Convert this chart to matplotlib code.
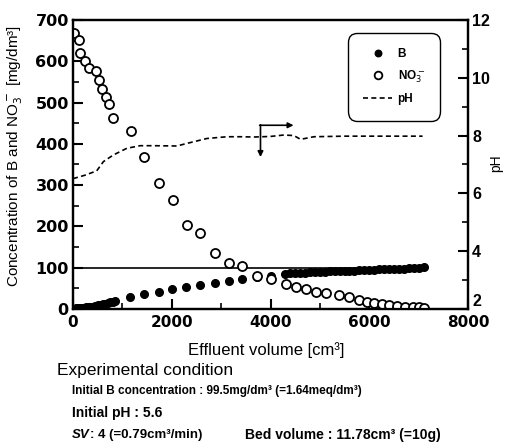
import matplotlib
matplotlib.use('Agg')
import matplotlib.pyplot as plt
from matplotlib.ticker import MultipleLocator

plt.rcParams['font.family'] = ['Liberation Sans', 'DejaVu Sans']

# NO3- concentration [mg/dm3] vs effluent volume [cm3]
no3_x = [20, 115, 142, 250, 331, 467, 528, 595, 663, 737, 818, 1172, 1442, 1740,
         2024, 2308, 2579, 2883, 3154, 3425, 3729, 4000, 4305, 4508, 4711, 4914,
         5117, 5387, 5590, 5793, 5962, 6100, 6250, 6400, 6560, 6720, 6880, 7000, 7114]
no3_y = [669, 651, 621, 600, 583, 576, 554, 532, 514, 496, 462, 432, 369, 304,
         264, 203, 183, 135, 111, 104, 80, 72, 60, 54, 48, 42,
         38, 35, 30, 22, 16, 14, 12, 10, 8, 6, 5, 4, 3]

# B concentration [mg/dm3]
b_x = [10, 40, 70, 100, 140, 180, 220, 260, 300, 350, 400, 450, 500, 550, 600,
       650, 700, 750, 800, 850, 1157, 1442, 1733, 2003, 2294, 2579, 2869, 3154,
       3425, 3729, 4000,
       4300, 4400, 4500, 4600, 4700, 4800, 4900, 5000, 5100, 5200, 5300, 5400,
       5500, 5600, 5700, 5800, 5900, 6000, 6100, 6200, 6300, 6400, 6500, 6600,
       6700, 6800, 6900, 7000, 7100]
b_y = [1, 1, 2, 2, 2, 3, 3, 4, 4, 5, 6, 7, 9, 10, 12,
       13, 15, 16, 18, 19, 30, 36, 42, 48, 54, 58, 62, 67,
       72, 77, 80,
       85, 86, 87, 87, 88, 89, 89, 90, 90, 91, 91, 92,
       92, 93, 93, 94, 94, 95, 95, 96, 96, 97, 97, 98,
       98, 99, 99, 100, 101]

# effluent pH
ph_x = [0, 244, 480, 616, 818, 1090, 1360, 1631, 2105, 2308, 2714, 3120, 3390,
        3661, 4000, 4270, 4473, 4609, 4880, 5500, 6200, 7080]
ph_y = [6.51, 6.63, 6.78, 7.10, 7.33, 7.56, 7.65, 7.65, 7.64, 7.73, 7.90, 7.96, 7.96,
        7.95, 7.97, 8.02, 8.00, 7.87, 7.96, 7.98, 7.98, 7.98]

b_initial = 99.5
v_end = 7100

fig = plt.figure(figsize=(5.05, 4.48), dpi=100)
ax = fig.add_axes([0.1446, 0.3103, 0.7821, 0.6451])
ax2 = ax.twinx()

ax.plot([0, v_end], [b_initial, b_initial], color='black', lw=1.2, zorder=1)
hb, = ax.plot(b_x, b_y, 'o', color='black', ms=5.5, label='B', zorder=2)
hn, = ax.plot(no3_x, no3_y, 'o', mfc='white', mec='black', mew=1.3, ms=6.5,
              label='NO$_3^-$', zorder=3)
hp, = ax2.plot(ph_x, ph_y, '--', color='black', lw=1.2, dashes=(3, 2), label='pH')

ax.set_xlim(0, 8000)
ax.set_ylim(0, 700)
ax2.set_ylim(2, 12)

ax.xaxis.set_major_locator(MultipleLocator(2000))
ax.xaxis.set_minor_locator(MultipleLocator(1000))
ax.yaxis.set_major_locator(MultipleLocator(100))
ax.yaxis.set_minor_locator(MultipleLocator(50))
ax2.yaxis.set_major_locator(MultipleLocator(2))
ax2.yaxis.set_minor_locator(MultipleLocator(1))

for a in (ax, ax2):
    a.tick_params(which='major', direction='in', length=7, width=1.5, pad=3)
    a.tick_params(which='minor', direction='in', length=4, width=1.2)
    for s in a.spines.values():
        s.set_linewidth(1.6)

# left / bottom tick labels are wide and heavy, right ones narrower
for lab in ax.get_yticklabels():
    lab.set_fontfamily('DejaVu Sans')
    lab.set_fontweight('bold')
    lab.set_fontsize(11.5)
for lab in ax.get_xticklabels():
    lab.set_fontfamily('DejaVu Sans')
    lab.set_fontweight('bold')
    lab.set_fontsize(11)
for lab in ax2.get_yticklabels():
    lab.set_fontweight('bold')
    lab.set_fontsize(11.5)
ax.tick_params(axis='x', pad=4)

# lift the lowest pH label a little so it clears "8000"
for t in ax2.yaxis.get_major_ticks():
    if abs(t.get_loc() - 2) < 1e-9:
        t.label2.set_va('bottom')

ax.set_xlabel('Effluent volume [cm³]', fontsize=12)
ax.xaxis.set_label_coords(0.49, -0.115)
ax.set_ylabel('Concentration of B and NO$_3^-$ [mg/dm³]', fontsize=11)
ax.yaxis.set_label_coords(-0.122, 0.53)
ax2.set_ylabel('pH', fontsize=10)
ax2.yaxis.set_label_coords(1.053, 0.505)

# arrow pointing to the pH axis
ax.annotate('', xy=(4467, 445), xytext=(3780, 445),
            arrowprops=dict(arrowstyle='-|>', color='black', lw=1.2,
                            mutation_scale=8, shrinkA=0, shrinkB=0))
ax.annotate('', xy=(3797, 368), xytext=(3797, 446),
            arrowprops=dict(arrowstyle='-|>', color='black', lw=1.2,
                            mutation_scale=8, shrinkA=0, shrinkB=0))

leg = ax2.legend(handles=[hb, hn, hp], loc='upper right',
                 bbox_to_anchor=(0.93, 0.955), borderaxespad=0,
                 prop={'size': 8.5, 'weight': 'bold'}, labelspacing=0.7,
                 borderpad=1.3, handlelength=2.4, handletextpad=0.5,
                 markerscale=0.85, fancybox=True, framealpha=1)
leg.get_frame().set_edgecolor('black')
leg.get_frame().set_linewidth(1.0)
leg.get_frame().set_boxstyle('round', pad=0, rounding_size=0.8)

fig.text(57 / 505, 1 - 370 / 448, 'Experimental condition', fontsize=12.5,
         va='center', ha='left')
fig.text(72 / 505, 1 - 391 / 448,
         'Initial B concentration : 99.5mg/dm³ (=1.64meq/dm³)',
         fontsize=8.5, fontweight='bold', va='center', ha='left')
fig.text(72 / 505, 1 - 413 / 448, 'Initial pH : 5.6',
         fontsize=10, fontweight='bold', va='center', ha='left')
fig.text(72 / 505, 1 - 435 / 448, 'SV',
         fontsize=9.5, fontweight='bold', fontstyle='italic', va='center', ha='left')
fig.text(90 / 505, 1 - 435 / 448, ': 4 (=0.79cm³/min)',
         fontsize=9.5, fontweight='bold', va='center', ha='left')
fig.text(245 / 505, 1 - 435 / 448, 'Bed volume : 11.78cm³ (=10g)',
         fontsize=10, fontweight='bold', va='center', ha='left')

fig.savefig('out.png', dpi=100)
